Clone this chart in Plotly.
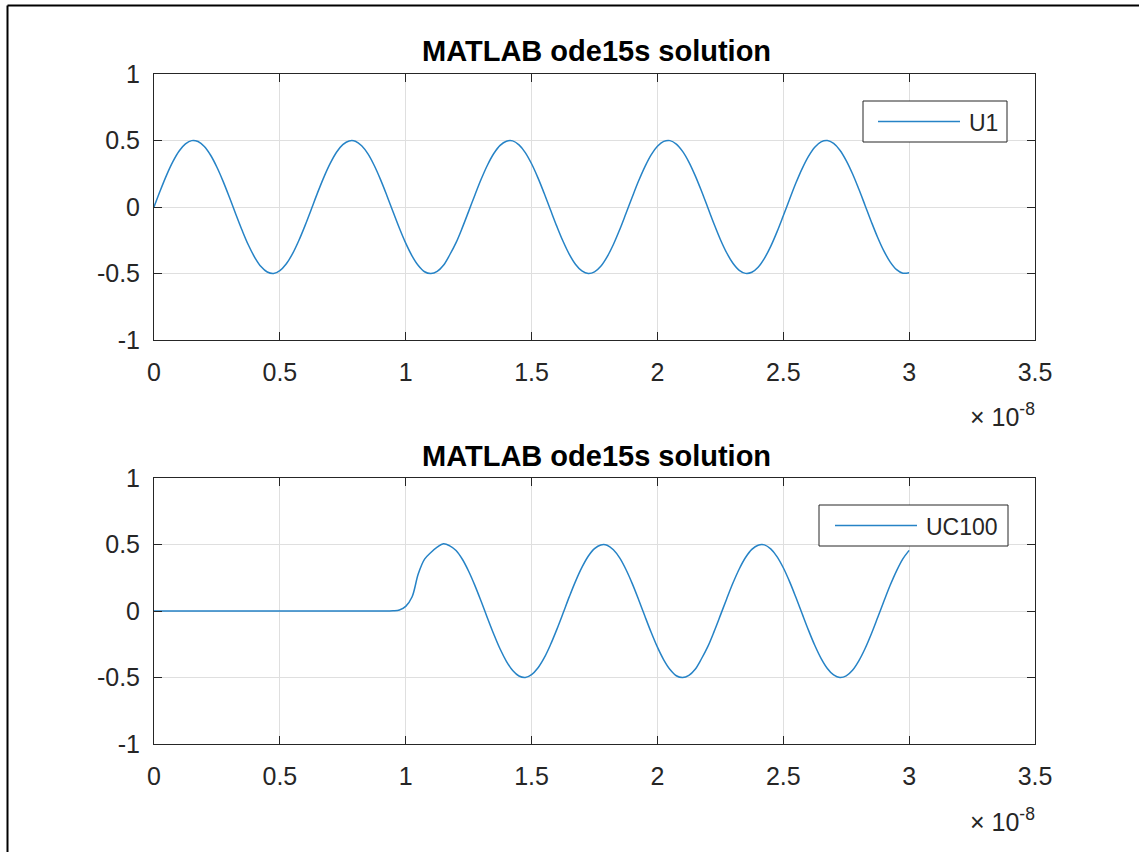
import plotly.graph_objects as go

# ---------------- data (time in units of 1e-8 s) ----------------
t_u1 = [0.000, 0.025, 0.050, 0.075, 0.100, 0.125, 0.150, 0.175, 0.200, 0.225,
        0.250, 0.275, 0.300, 0.325, 0.350, 0.375, 0.400, 0.425, 0.450, 0.475,
        0.500, 0.525, 0.550, 0.575, 0.600, 0.625, 0.650, 0.675, 0.700, 0.725,
        0.750, 0.775, 0.800, 0.825, 0.850, 0.875, 0.900, 0.925, 0.950, 0.975,
        1.000, 1.025, 1.050, 1.075, 1.100, 1.125, 1.150, 1.175, 1.200, 1.225,
        1.250, 1.275, 1.300, 1.325, 1.350, 1.375, 1.400, 1.425, 1.450, 1.475,
        1.500, 1.525, 1.550, 1.575, 1.600, 1.625, 1.650, 1.675, 1.700, 1.725,
        1.750, 1.775, 1.800, 1.825, 1.850, 1.875, 1.900, 1.925, 1.950, 1.975,
        2.000, 2.025, 2.050, 2.075, 2.100, 2.125, 2.150, 2.175, 2.200, 2.225,
        2.250, 2.275, 2.300, 2.325, 2.350, 2.375, 2.400, 2.425, 2.450, 2.475,
        2.500, 2.525, 2.550, 2.575, 2.600, 2.625, 2.650, 2.675, 2.700, 2.725,
        2.750, 2.775, 2.800, 2.825, 2.850, 2.875, 2.900, 2.925, 2.950, 2.975,
        3.000]
u1 = [0.000, 0.124, 0.240, 0.341, 0.421, 0.474, 0.499, 0.492, 0.455, 0.389,
      0.299, 0.191, 0.071, -0.054, -0.175, -0.286, -0.378, -0.448, -0.489, -0.500,
      -0.479, -0.429, -0.353, -0.254, -0.140, -0.017, 0.108, 0.225, 0.328, 0.412,
      0.469, 0.497, 0.495, 0.460, 0.399, 0.312, 0.206, 0.087, -0.038, -0.160,
      -0.272, -0.367, -0.440, -0.487, -0.500, -0.484, -0.438, -0.359, -0.268, -0.155,
      -0.033, 0.091, 0.210, 0.316, 0.402, 0.463, 0.495, 0.497, 0.467, 0.409,
      0.325, 0.221, 0.103, -0.021, -0.144, -0.258, -0.356, -0.432, -0.481, -0.500,
      -0.488, -0.446, -0.375, -0.282, -0.171, -0.049, 0.075, 0.195, 0.302, 0.392,
      0.456, 0.493, 0.499, 0.473, 0.418, 0.338, 0.236, 0.120, -0.004, -0.128,
      -0.244, -0.344, -0.423, -0.476, -0.499, -0.491, -0.453, -0.386, -0.296, -0.187,
      -0.066, 0.058, 0.180, 0.289, 0.381, 0.450, 0.490, 0.500, 0.478, 0.427,
      0.349, 0.250, 0.135, 0.012, -0.112, -0.229, -0.332, -0.414, -0.471, -0.498,
      -0.494]

t_uc100 = [0.000, 0.500, 0.900, 0.950, 0.975, 1.000, 1.025, 1.050, 1.075, 1.100,
           1.125, 1.150, 1.175,
           1.200, 1.225, 1.250, 1.275, 1.300, 1.325, 1.350, 1.375, 1.400, 1.425,
           1.450, 1.475, 1.500, 1.525, 1.550, 1.575, 1.600, 1.625, 1.650, 1.675,
           1.700, 1.725, 1.750, 1.775, 1.800, 1.825, 1.850, 1.875, 1.900, 1.925,
           1.950, 1.975, 2.000, 2.025, 2.050, 2.075, 2.100, 2.125, 2.150, 2.175,
           2.200, 2.225, 2.250, 2.275, 2.300, 2.325, 2.350, 2.375, 2.400, 2.425,
           2.450, 2.475, 2.500, 2.525, 2.550, 2.575, 2.600, 2.625, 2.650, 2.675,
           2.700, 2.725, 2.750, 2.775, 2.800, 2.825, 2.850, 2.875, 2.900, 2.925,
           2.950, 2.975, 3.000]
uc100 = [0.000, 0.000, 0.000, 0.002, 0.008, 0.035, 0.105, 0.280, 0.390, 0.440,
         0.480, 0.505, 0.490,
         0.455, 0.389, 0.299, 0.191, 0.071, -0.054, -0.175, -0.286, -0.378, -0.448,
         -0.489, -0.500, -0.479, -0.429, -0.353, -0.254, -0.140, -0.017, 0.108, 0.225,
         0.328, 0.412, 0.469, 0.497, 0.495, 0.460, 0.399, 0.312, 0.206, 0.087,
         -0.038, -0.160, -0.272, -0.367, -0.440, -0.487, -0.500, -0.484, -0.438, -0.359,
         -0.268, -0.155, -0.033, 0.091, 0.210, 0.316, 0.402, 0.463, 0.495, 0.497,
         0.467, 0.409, 0.325, 0.221, 0.103, -0.021, -0.144, -0.258, -0.356, -0.432,
         -0.481, -0.500, -0.488, -0.446, -0.375, -0.282, -0.171, -0.049, 0.075, 0.195,
         0.302, 0.392, 0.456]

x_tickvals = [0, 0.5, 1, 1.5, 2, 2.5, 3, 3.5]
x_ticktext = ["0", "0.5", "1", "1.5", "2", "2.5", "3", "3.5"]
y_tickvals = [-1, -0.5, 0, 0.5, 1]
y_ticktext = ["-1", "-0.5", "0", "0.5", "1"]

titles = ["MATLAB ode15s solution", "MATLAB ode15s solution"]
legend_names = ["U1", "UC100"]
exponent_text = "× 10<sup>-8</sup>"

# ---------------- styling / layout ----------------
W, H = 1139, 852
L, R, T, B = 154, 1035, 74, 744  # plot-area pixel bounds
BLUE = "#2683c6"
AXC = "#262626"
GRID = "#dfdfdf"
FONT = "Liberation Sans"
LW = 1.5


def px_x(p):
    return (p - L) / (R - L)


def px_y(p):
    return (B - p) / (B - T)


fig = go.Figure()
fig.add_trace(go.Scatter(x=t_u1, y=u1, mode="lines", name=legend_names[0],
                         line=dict(color=BLUE, width=LW, shape="spline"),
                         xaxis="x", yaxis="y", showlegend=False))
fig.add_trace(go.Scatter(x=t_uc100, y=uc100, mode="lines", name=legend_names[1],
                         line=dict(color=BLUE, width=LW, shape="spline"),
                         xaxis="x2", yaxis="y2", showlegend=False))

axis_common = dict(showline=True, linecolor=AXC, linewidth=1, mirror="ticks",
                   ticks="inside", ticklen=8, tickcolor=AXC, tickwidth=1,
                   showgrid=True, gridcolor=GRID, gridwidth=1, zeroline=False,
                   tickfont=dict(family=FONT, size=25, color=AXC))

top_dom = [px_y(340), 1.0]
bot_dom = [0.0, px_y(478)]

fig.update_layout(
    width=W, height=H,
    margin=dict(l=L, r=W - R, t=T, b=H - B),
    paper_bgcolor="white", plot_bgcolor="white",
    xaxis=dict(domain=[0, 1], anchor="y", range=[0, 3.5], tickvals=x_tickvals,
               ticktext=x_ticktext, ticklabelstandoff=10, **axis_common),
    yaxis=dict(domain=top_dom, anchor="x", range=[-1, 1], tickvals=y_tickvals,
               ticktext=y_ticktext, ticklabelstandoff=8, **axis_common),
    xaxis2=dict(domain=[0, 1], anchor="y2", range=[0, 3.5], tickvals=x_tickvals,
                ticktext=x_ticktext, ticklabelstandoff=10, **axis_common),
    yaxis2=dict(domain=bot_dom, anchor="x2", range=[-1, 1], tickvals=y_tickvals,
                ticktext=y_ticktext, ticklabelstandoff=8, **axis_common),
)

annotations = []
shapes = []
# titles
for ty, txt in zip([51, 456], titles):
    annotations.append(dict(text="<b>" + txt + "</b>", x=px_x(596.5), y=px_y(ty), xref="paper", yref="paper",
                            xanchor="center", yanchor="middle", showarrow=False,
                            font=dict(family=FONT, size=29, color="black")))
# exponent labels
for ey in [415, 820]:
    annotations.append(dict(text=exponent_text, x=px_x(1037), y=px_y(ey), xref="paper", yref="paper",
                            xanchor="right", yanchor="middle", showarrow=False,
                            font=dict(family=FONT, size=25, color=AXC)))

# manual MATLAB-style legends: (box x0, x1, y0, y1, line x0, x1, text x)
legend_boxes = [
    (863, 1007, 101, 142, 878, 960, 967),
    (819, 1008, 505, 546, 835, 917, 924),
]
for (bx0, bx1, by0, by1, lx0, lx1, tx), name in zip(legend_boxes, legend_names):
    shapes.append(dict(type="rect", xref="paper", yref="paper",
                       x0=px_x(bx0), x1=px_x(bx1), y0=px_y(by0), y1=px_y(by1),
                       line=dict(color=AXC, width=1), fillcolor="white", layer="above"))
    ym = (by0 + by1) / 2
    shapes.append(dict(type="line", xref="paper", yref="paper",
                       x0=px_x(lx0), x1=px_x(lx1), y0=px_y(ym), y1=px_y(ym),
                       line=dict(color=BLUE, width=LW), layer="above"))
    annotations.append(dict(text=name, x=px_x(tx), y=px_y(ym + 1), xref="paper", yref="paper",
                            xanchor="left", yanchor="middle", showarrow=False,
                            font=dict(family=FONT, size=23, color=AXC)))

# outer frame lines (top and left)
shapes.append(dict(type="line", xref="paper", yref="paper",
                   x0=px_x(7.5), x1=px_x(1145), y0=px_y(5.5), y1=px_y(5.5),
                   line=dict(color="black", width=2)))
shapes.append(dict(type="line", xref="paper", yref="paper",
                   x0=px_x(7.5), x1=px_x(7.5), y0=px_y(5.5), y1=px_y(860),
                   line=dict(color="black", width=2)))

fig.update_layout(annotations=annotations, shapes=shapes)
fig.write_html("out.html")
